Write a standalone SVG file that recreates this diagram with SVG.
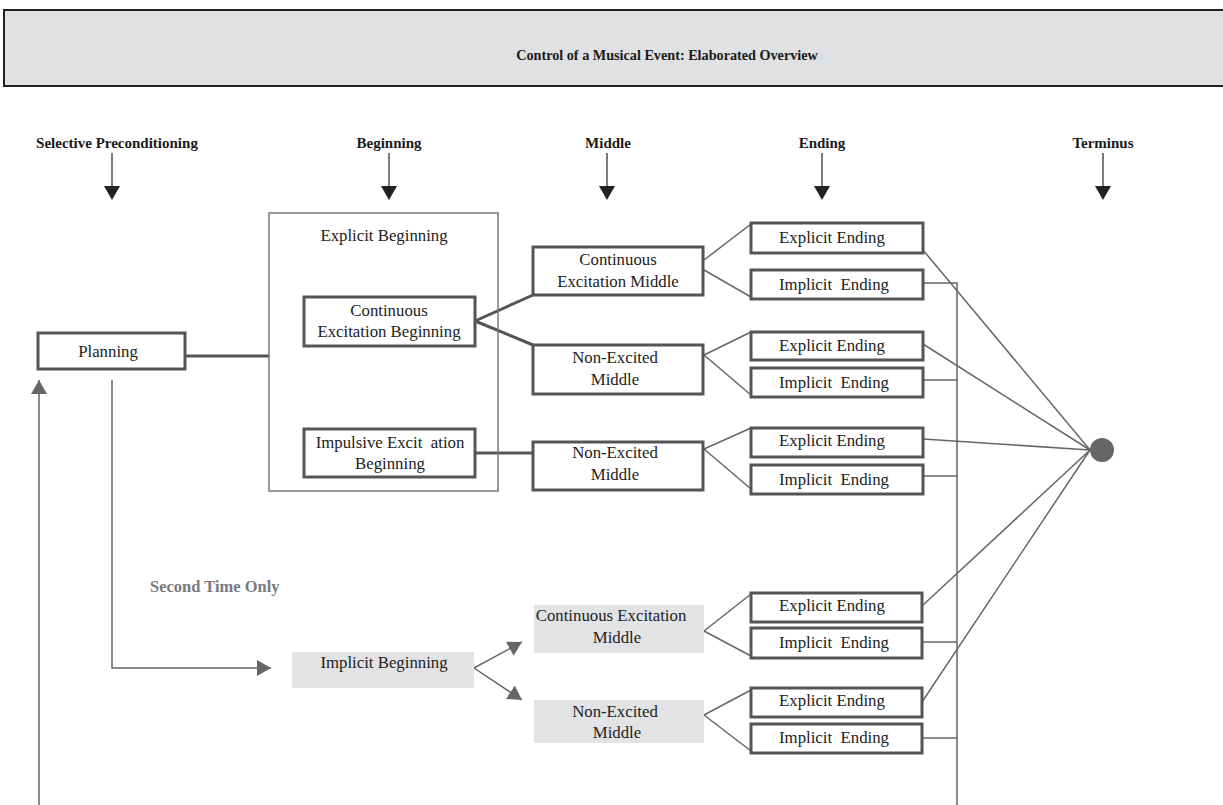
<svg xmlns="http://www.w3.org/2000/svg" width="1223" height="805" viewBox="0 0 1223 805">
  <style>
    .title { font-family: "Liberation Serif", serif; font-weight: bold; font-size: 14.2px; fill: #1a1a1a; text-anchor: middle; }
    .head { font-family: "Liberation Serif", serif; font-weight: bold; font-size: 15px; fill: #1a1a1a; text-anchor: middle; }
    .lbl { font-family: "Liberation Serif", serif; font-size: 16.8px; fill: #222; text-anchor: middle; }
    .note { font-family: "Liberation Serif", serif; font-weight: bold; font-size: 16.5px; fill: #7a7a7a; }
    .box { fill: #fff; stroke: #555; stroke-width: 3; }
    .shade { fill: #e2e3e5; stroke: none; }
    .frame { fill: none; stroke: #777; stroke-width: 1.5; }
    .wire { fill: none; stroke: #666; stroke-width: 1.5; }
    .thick { fill: none; stroke: #555; stroke-width: 3; }
    .hdarrow { stroke: #222; stroke-width: 1.2; }
  </style>
  <defs>
    <marker id="grayTipBig" viewBox="0 0 14 16" refX="14" refY="8" markerWidth="14" markerHeight="16" markerUnits="userSpaceOnUse" orient="auto">
      <path d="M0,0 L14,8 L0,16 z" fill="#666"/>
    </marker>
  </defs>

  <rect width="1223" height="805" fill="#fff"/>

  <!-- title banner -->
  <g id="title">
    <rect x="4" y="10" width="1230" height="76" fill="#e0e1e3" stroke="#222" stroke-width="2"/>
    <text class="title" x="667" y="60">Control of a Musical Event: Elaborated Overview</text>
  </g>

  <!-- phase headers -->
  <g id="headers">
    <text class="head" x="117" y="148">Selective Preconditioning</text>
    <text class="head" x="389" y="148">Beginning</text>
    <text class="head" x="608" y="148">Middle</text>
    <text class="head" x="822" y="148">Ending</text>
    <text class="head" x="1103" y="148">Terminus</text>
    <g fill="#222">
      <line class="hdarrow" x1="112" y1="153" x2="112" y2="187"/><path d="M104,186 L120,186 L112,200 z"/>
      <line class="hdarrow" x1="389" y1="153" x2="389" y2="187"/><path d="M381,186 L397,186 L389,200 z"/>
      <line class="hdarrow" x1="607" y1="153" x2="607" y2="187"/><path d="M599,186 L615,186 L607,200 z"/>
      <line class="hdarrow" x1="822" y1="153" x2="822" y2="187"/><path d="M814,186 L830,186 L822,200 z"/>
      <line class="hdarrow" x1="1103" y1="153" x2="1103" y2="187"/><path d="M1095,186 L1111,186 L1103,200 z"/>
    </g>
  </g>

  <!-- connectors -->
  <g id="connectors">
    <!-- planning to explicit beginning -->
    <line class="thick" x1="185" y1="356" x2="269" y2="356"/>
    <!-- beginning to middle -->
    <line class="thick" x1="475" y1="321" x2="533" y2="295"/>
    <line class="thick" x1="475" y1="321" x2="533" y2="345"/>
    <line class="thick" x1="475" y1="453" x2="533" y2="453"/>
    <!-- middle to endings -->
    <line class="wire" x1="704" y1="260" x2="751" y2="224"/>
    <line class="wire" x1="704" y1="270" x2="751" y2="297"/>
    <line class="wire" x1="704" y1="355" x2="751" y2="332"/>
    <line class="wire" x1="704" y1="355" x2="751" y2="395"/>
    <line class="wire" x1="704" y1="449" x2="751" y2="428"/>
    <line class="wire" x1="704" y1="449" x2="751" y2="489"/>
    <line class="wire" x1="704" y1="631" x2="751" y2="594"/>
    <line class="wire" x1="704" y1="631" x2="751" y2="656"/>
    <line class="wire" x1="704" y1="715" x2="751" y2="690"/>
    <line class="wire" x1="704" y1="715" x2="751" y2="751"/>
    <!-- explicit endings to terminus -->
    <line class="wire" x1="923" y1="250" x2="1090" y2="450"/>
    <line class="wire" x1="923" y1="344" x2="1090" y2="450"/>
    <line class="wire" x1="923" y1="439" x2="1090" y2="450"/>
    <line class="wire" x1="922" y1="606" x2="1090" y2="450"/>
    <line class="wire" x1="922" y1="702" x2="1090" y2="450"/>
    <!-- implicit endings to return bus -->
    <polyline class="wire" points="923,283 957,283 957,805"/>
    <line class="wire" x1="923" y1="380" x2="957" y2="380"/>
    <line class="wire" x1="923" y1="476" x2="957" y2="476"/>
    <line class="wire" x1="922" y1="642" x2="957" y2="642"/>
    <line class="wire" x1="922" y1="738" x2="957" y2="738"/>
    <!-- return to planning -->
    <line class="wire" x1="39" y1="805" x2="39" y2="380" marker-end="url(#grayTipBig)"/>
    <!-- second time path -->
    <polyline class="wire" points="112,380 112,668 271,668" marker-end="url(#grayTipBig)"/>
    <line class="wire" x1="474" y1="668" x2="522" y2="642" marker-end="url(#grayTipBig)"/>
    <line class="wire" x1="474" y1="668" x2="522" y2="700" marker-end="url(#grayTipBig)"/>
  </g>

  <!-- nodes -->
  <g id="planning">
    <rect class="box" x="38" y="333" width="147" height="36"/>
    <text class="lbl" x="108" y="357">Planning</text>
  </g>

  <g id="explicit-beginning">
    <rect class="frame" x="269" y="213" width="229" height="278"/>
    <text class="lbl" x="384" y="241">Explicit Beginning</text>
  </g>

  <g id="continuous-beginning">
    <rect class="box" x="304" y="297" width="171" height="49"/>
    <text class="lbl" x="389" y="316">Continuous</text>
    <text class="lbl" x="389" y="337">Excitation Beginning</text>
  </g>

  <g id="impulsive-beginning">
    <rect class="box" x="304" y="429" width="171" height="48"/>
    <text class="lbl" x="390" y="448" xml:space="preserve">Impulsive Excit  ation</text>
    <text class="lbl" x="390" y="469">Beginning</text>
  </g>

  <g id="continuous-middle">
    <rect class="box" x="533" y="247" width="170" height="48"/>
    <text class="lbl" x="618" y="265">Continuous</text>
    <text class="lbl" x="618" y="287">Excitation Middle</text>
  </g>

  <g id="non-excited-middle-1">
    <rect class="box" x="533" y="345" width="170" height="49"/>
    <text class="lbl" x="615" y="363">Non-Excited</text>
    <text class="lbl" x="615" y="385">Middle</text>
  </g>

  <g id="non-excited-middle-2">
    <rect class="box" x="533" y="442" width="170" height="48"/>
    <text class="lbl" x="615" y="458">Non-Excited</text>
    <text class="lbl" x="615" y="480">Middle</text>
  </g>

  <g id="endings">
    <g id="explicit-ending-1"><rect class="box" x="751" y="223" width="172" height="30"/><text class="lbl" x="832" y="243">Explicit Ending</text></g>
    <g id="implicit-ending-1"><rect class="box" x="751" y="270" width="172" height="29"/><text class="lbl" x="834" y="290" xml:space="preserve">Implicit  Ending</text></g>
    <g id="explicit-ending-2"><rect class="box" x="751" y="332" width="172" height="28"/><text class="lbl" x="832" y="351">Explicit Ending</text></g>
    <g id="implicit-ending-2"><rect class="box" x="751" y="368" width="172" height="29"/><text class="lbl" x="834" y="388" xml:space="preserve">Implicit  Ending</text></g>
    <g id="explicit-ending-3"><rect class="box" x="751" y="428" width="172" height="29"/><text class="lbl" x="832" y="446">Explicit Ending</text></g>
    <g id="implicit-ending-3"><rect class="box" x="751" y="465" width="172" height="29"/><text class="lbl" x="834" y="485" xml:space="preserve">Implicit  Ending</text></g>
    <g id="explicit-ending-4"><rect class="box" x="751" y="593" width="171" height="29"/><text class="lbl" x="832" y="611">Explicit Ending</text></g>
    <g id="implicit-ending-4"><rect class="box" x="751" y="628" width="171" height="30"/><text class="lbl" x="834" y="648" xml:space="preserve">Implicit  Ending</text></g>
    <g id="explicit-ending-5"><rect class="box" x="751" y="688" width="171" height="29"/><text class="lbl" x="832" y="706">Explicit Ending</text></g>
    <g id="implicit-ending-5"><rect class="box" x="751" y="724" width="171" height="29"/><text class="lbl" x="834" y="743" xml:space="preserve">Implicit  Ending</text></g>
  </g>

  <g id="terminus">
    <circle cx="1102" cy="450" r="12" fill="#666"/>
  </g>

  <g id="second-time-note">
    <text class="note" x="150" y="592">Second Time Only</text>
  </g>

  <g id="implicit-beginning">
    <rect class="shade" x="292" y="652" width="182" height="36"/>
    <text class="lbl" x="384" y="668">Implicit Beginning</text>
  </g>

  <g id="continuous-middle-2">
    <rect class="shade" x="534" y="605" width="170" height="48"/>
    <text class="lbl" x="611" y="621">Continuous Excitation</text>
    <text class="lbl" x="617" y="643">Middle</text>
  </g>

  <g id="non-excited-middle-3">
    <rect class="shade" x="534" y="700" width="170" height="43"/>
    <text class="lbl" x="615" y="717">Non-Excited</text>
    <text class="lbl" x="617" y="738">Middle</text>
  </g>
</svg>
